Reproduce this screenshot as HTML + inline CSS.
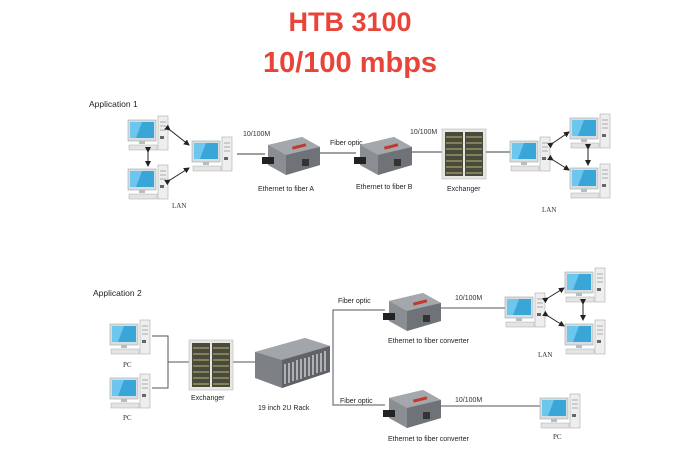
<!DOCTYPE html>
<html><head><meta charset="utf-8"><style>
html,body{margin:0;padding:0;background:#fff;}
svg{display:block;font-family:"Liberation Sans",sans-serif;}
</style></head><body>
<svg width="700" height="450" viewBox="0 0 700 450" xmlns="http://www.w3.org/2000/svg">
<defs>
<g id="pc">
  <rect x="0" y="0" width="28" height="21" fill="#d8dde2" stroke="#9aa" stroke-width="0.6"/>
  <rect x="2" y="2" width="24" height="16" fill="#3aa6d8"/>
  <polygon points="2,2 14,2 8,18 2,18" fill="#6cc6ee"/>
  <rect x="11" y="21" width="6" height="3" fill="#bbb"/>
  <rect x="1" y="25" width="28" height="5" fill="#e4e4e4" stroke="#aaa" stroke-width="0.5"/>
  <rect x="30" y="-4" width="10" height="34" fill="#eee" stroke="#aaa" stroke-width="0.6"/>
  <line x1="32" y1="2" x2="38" y2="2" stroke="#999" stroke-width="0.8"/>
  <line x1="32" y1="6" x2="38" y2="6" stroke="#999" stroke-width="0.8"/>
  <line x1="32" y1="10" x2="38" y2="10" stroke="#999" stroke-width="0.8"/>
  <rect x="32" y="16" width="4" height="3" fill="#666"/>
</g>
<g id="conv">
  <polygon points="6,8 40,0 58,10 58,28 24,38 6,28" fill="#8a8d92"/>
  <polygon points="6,8 40,0 58,10 24,18" fill="#a4a7ac"/>
  <polygon points="24,18 58,10 58,28 24,38" fill="#6f7277"/>
  <rect x="30" y="8" width="14" height="3" fill="#c0392b" transform="rotate(-14 37 9)"/>
  <rect x="40" y="22" width="7" height="7" fill="#333"/>
  <rect x="0" y="20" width="12" height="7" fill="#222"/>
</g>
<g id="exch">
  <rect x="0" y="0" width="44" height="50" fill="#e6e6e2" stroke="#bbb" stroke-width="0.6"/>
  <rect x="3" y="3" width="18" height="44" fill="#4a4a3c"/>
  <rect x="23" y="3" width="18" height="44" fill="#4a4a3c"/>
  <g stroke="#a9a66a" stroke-width="1.2">
    <line x1="4" y1="8" x2="20" y2="8"/><line x1="4" y1="14" x2="20" y2="14"/><line x1="4" y1="20" x2="20" y2="20"/>
    <line x1="4" y1="26" x2="20" y2="26"/><line x1="4" y1="32" x2="20" y2="32"/><line x1="4" y1="38" x2="20" y2="38"/><line x1="4" y1="44" x2="20" y2="44"/>
    <line x1="24" y1="8" x2="40" y2="8"/><line x1="24" y1="14" x2="40" y2="14"/><line x1="24" y1="20" x2="40" y2="20"/>
    <line x1="24" y1="26" x2="40" y2="26"/><line x1="24" y1="32" x2="40" y2="32"/><line x1="24" y1="38" x2="40" y2="38"/><line x1="24" y1="44" x2="40" y2="44"/>
  </g>
</g>
<marker id="ar" markerWidth="6" markerHeight="6" refX="5" refY="3" orient="auto"><path d="M0,0 L6,3 L0,6 z" fill="#222"/></marker>
</defs>

<text x="350" y="31" text-anchor="middle" font-size="27" font-weight="bold" fill="#e8443a">HTB 3100</text>
<text x="350" y="72" text-anchor="middle" font-size="29" font-weight="bold" fill="#e8443a">10/100 mbps</text>

<!-- Application 1 -->
<text x="89" y="107" font-size="8.5" fill="#222">Application 1</text>
<use href="#pc" x="128" y="120"/>
<use href="#pc" x="128" y="169"/>
<use href="#pc" x="192" y="141"/>
<g stroke="#222" stroke-width="1" marker-end="url(#ar)" marker-start="url(#ar)">
  <line x1="148" y1="152" x2="148" y2="166"/>
  <line x1="170" y1="130" x2="189" y2="145"/>
  <line x1="170" y1="180" x2="189" y2="168"/>
</g>
<text x="172" y="208" font-size="7" font-family="Liberation Serif,serif" fill="#333">LAN</text>
<line x1="237" y1="154" x2="265" y2="154" stroke="#666" stroke-width="1.2"/>
<text x="243" y="136" font-size="7" fill="#333">10/100M</text>
<use href="#conv" x="262" y="137"/>
<text x="258" y="191" font-size="7" fill="#222">Ethernet to fiber A</text>
<line x1="320" y1="153" x2="356" y2="153" stroke="#666" stroke-width="1.2"/>
<text x="330" y="145" font-size="7" fill="#222">Fiber optic</text>
<use href="#conv" x="354" y="137"/>
<text x="356" y="189" font-size="7" fill="#222">Ethernet to fiber B</text>
<line x1="412" y1="152" x2="442" y2="152" stroke="#666" stroke-width="1.2"/>
<text x="410" y="134" font-size="7" fill="#333">10/100M</text>
<use href="#exch" x="442" y="129"/>
<text x="447" y="191" font-size="7" fill="#222">Exchanger</text>
<line x1="486" y1="152" x2="510" y2="152" stroke="#666" stroke-width="1.2"/>
<use href="#pc" x="510" y="141"/>
<use href="#pc" x="570" y="118"/>
<use href="#pc" x="570" y="168"/>
<g stroke="#222" stroke-width="1" marker-end="url(#ar)" marker-start="url(#ar)">
  <line x1="553" y1="143" x2="569" y2="132"/>
  <line x1="553" y1="160" x2="569" y2="170"/>
  <line x1="588" y1="149" x2="588" y2="165"/>
</g>
<text x="542" y="212" font-size="7" font-family="Liberation Serif,serif" fill="#333">LAN</text>

<!-- Application 2 -->
<text x="93" y="296" font-size="8.5" fill="#222">Application 2</text>
<use href="#pc" x="110" y="324"/>
<use href="#pc" x="110" y="378"/>
<text x="123" y="367" font-size="7" font-family="Liberation Serif,serif" fill="#333">PC</text>
<text x="123" y="420" font-size="7" font-family="Liberation Serif,serif" fill="#333">PC</text>
<g stroke="#555" stroke-width="1" fill="none">
  <polyline points="152,336 168,336 168,388 152,388"/>
  <line x1="168" y1="362" x2="190" y2="362"/>
  <line x1="229" y1="362" x2="258" y2="362"/>
  <polyline points="385,310 333,310 333,405 385,405"/>
  <line x1="440" y1="308" x2="505" y2="308"/>
  <line x1="440" y1="406" x2="541" y2="406"/>
</g>
<use href="#exch" x="189" y="340" transform="translate(0,0)"/>
<text x="191" y="400" font-size="7" fill="#222">Exchanger</text>
<!-- rack -->
<polygon points="255,352 305,338 330,346 330,372 282,388 255,378" fill="#7d8085"/>
<polygon points="255,352 305,338 330,346 282,360" fill="#a2a5aa"/>
<polygon points="282,360 330,346 330,372 282,388" fill="#5f6267"/>
<g stroke="#c8cacd" stroke-width="1.5">
  <line x1="285" y1="364" x2="285" y2="384"/><line x1="289" y1="363" x2="289" y2="383"/><line x1="293" y1="362" x2="293" y2="381"/>
  <line x1="297" y1="360" x2="297" y2="380"/><line x1="301" y1="359" x2="301" y2="379"/><line x1="305" y1="358" x2="305" y2="377"/>
  <line x1="309" y1="357" x2="309" y2="376"/><line x1="313" y1="355" x2="313" y2="375"/><line x1="317" y1="354" x2="317" y2="373"/>
  <line x1="321" y1="353" x2="321" y2="372"/><line x1="325" y1="351" x2="325" y2="371"/>
</g>
<text x="258" y="410" font-size="7" fill="#222">19 inch 2U Rack</text>
<text x="338" y="303" font-size="7" fill="#222">Fiber optic</text>
<use href="#conv" x="383" y="293"/>
<text x="388" y="343" font-size="7" fill="#222">Ethernet to fiber converter</text>
<text x="455" y="300" font-size="7" fill="#333">10/100M</text>
<use href="#pc" x="505" y="297"/>
<use href="#pc" x="565" y="272"/>
<use href="#pc" x="565" y="324"/>
<g stroke="#222" stroke-width="1" marker-end="url(#ar)" marker-start="url(#ar)">
  <line x1="548" y1="298" x2="564" y2="288"/>
  <line x1="548" y1="316" x2="564" y2="326"/>
  <line x1="583" y1="304" x2="583" y2="320"/>
</g>
<text x="538" y="357" font-size="7" font-family="Liberation Serif,serif" fill="#333">LAN</text>
<text x="340" y="403" font-size="7" fill="#222">Fiber optic</text>
<use href="#conv" x="383" y="390"/>
<text x="388" y="441" font-size="7" fill="#222">Ethernet to fiber converter</text>
<text x="455" y="402" font-size="7" fill="#333">10/100M</text>
<use href="#pc" x="540" y="398"/>
<text x="553" y="439" font-size="7" font-family="Liberation Serif,serif" fill="#333">PC</text>
</svg>
</body></html>
